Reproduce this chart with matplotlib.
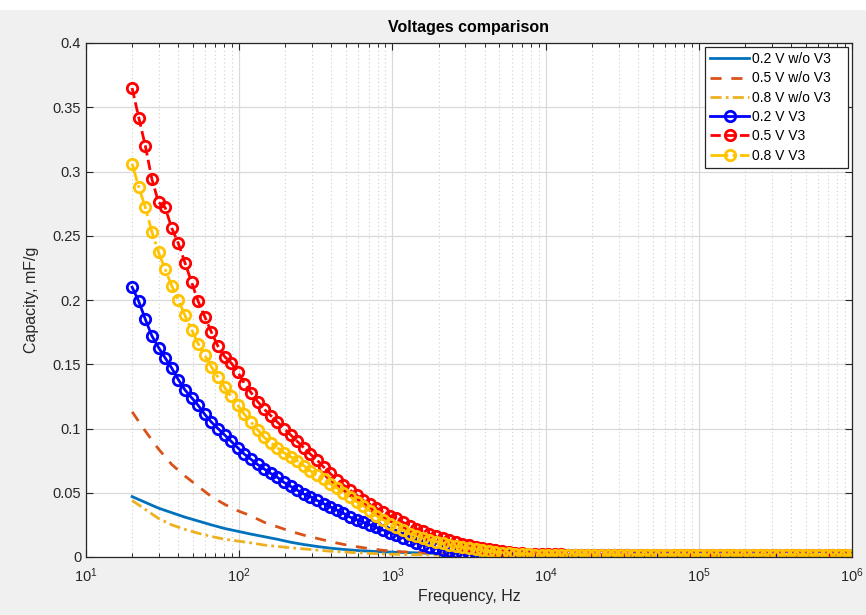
import numpy as np
import matplotlib
matplotlib.use('Agg')
import matplotlib.pyplot as plt
from matplotlib.patches import Rectangle
from matplotlib.ticker import LogLocator

plt.rcParams['font.family'] = ['Liberation Sans', 'DejaVu Sans']

# frequency sweep of the measurement (110 points, 20 Hz .. 1 MHz)
freq = np.logspace(np.log10(20), 6, 110)
freq_lines = freq[::2]

# capacity, mF/g  -- series with V3 (every sweep point)
c_02_v3 = [0.210, 0.199, 0.185, 0.172, 0.163, 0.155, 0.147, 0.138, 0.130, 0.124,
           0.118, 0.111, 0.105, 0.100, 0.095, 0.090, 0.085, 0.080, 0.076, 0.072,
           0.0685, 0.065, 0.062, 0.058, 0.055, 0.052, 0.049, 0.047, 0.044, 0.0415,
           0.039, 0.0365, 0.034, 0.031, 0.029, 0.027, 0.025, 0.023, 0.021, 0.019,
           0.017, 0.015, 0.013, 0.011, 0.0095, 0.008, 0.0068, 0.0057, 0.0048, 0.004,
           0.0033, 0.0027, 0.0022, 0.0018, 0.0015, 0.0013,
           0.0012, 0.0012, 0.0012, 0.0012, 0.0012, 0.0012, 0.0012, 0.0012, 0.0012, 0.0012,
           0.0012, 0.0012, 0.0012, 0.0012, 0.0012, 0.0012, 0.0012, 0.0012, 0.0012, 0.0012,
           0.0011, 0.0011, 0.0011, 0.0011, 0.0011, 0.0011, 0.0011, 0.0011, 0.0011, 0.0011,
           0.0011, 0.0011, 0.0011, 0.0011, 0.0011, 0.0011, 0.0011, 0.0011, 0.0011, 0.0011,
           0.0010, 0.0010, 0.0010, 0.0010, 0.0010, 0.0010, 0.0010, 0.0010, 0.0010, 0.0010,
           0.0010, 0.0010, 0.0010, 0.0010]
c_05_v3 = [0.365, 0.342, 0.320, 0.294, 0.276, 0.272, 0.256, 0.244, 0.229, 0.214,
           0.199, 0.187, 0.175, 0.164, 0.156, 0.151, 0.144, 0.135, 0.128, 0.121,
           0.115, 0.110, 0.105, 0.100, 0.095, 0.090, 0.085, 0.080, 0.0755, 0.070,
           0.065, 0.060, 0.056, 0.052, 0.048, 0.044, 0.041, 0.038, 0.035, 0.032,
           0.030, 0.027, 0.0245, 0.022, 0.020, 0.018, 0.016, 0.0145, 0.013, 0.0115,
           0.010, 0.009, 0.0078, 0.0068, 0.0060, 0.0052, 0.0045, 0.0039, 0.0034, 0.0030,
           0.0027, 0.0025, 0.0023, 0.0021,
           0.0020, 0.0020, 0.0019, 0.0019, 0.0019, 0.0018, 0.0018, 0.0018, 0.0017, 0.0017,
           0.0017, 0.0016, 0.0016, 0.0016, 0.0016, 0.0015, 0.0015, 0.0015, 0.0015, 0.0015,
           0.0014, 0.0014, 0.0014, 0.0014, 0.0014, 0.0014, 0.0014, 0.0014, 0.0014, 0.0014,
           0.0013, 0.0013, 0.0013, 0.0013, 0.0013, 0.0013, 0.0013, 0.0013, 0.0013, 0.0013,
           0.0012, 0.0012, 0.0012, 0.0012, 0.0012, 0.0012]
c_08_v3 = [0.306, 0.288, 0.272, 0.253, 0.237, 0.224, 0.211, 0.200, 0.188, 0.177,
           0.166, 0.157, 0.148, 0.140, 0.132, 0.125, 0.118, 0.111, 0.105, 0.099,
           0.093, 0.089, 0.085, 0.081, 0.078, 0.075, 0.071, 0.067, 0.064, 0.061,
           0.057, 0.054, 0.050, 0.047, 0.043, 0.040, 0.036, 0.032, 0.029, 0.026,
           0.023, 0.021, 0.018, 0.0165, 0.015, 0.0135, 0.012, 0.0107, 0.0095, 0.0085,
           0.0076, 0.0068, 0.0060, 0.0053, 0.0046, 0.0040, 0.0035, 0.0030, 0.0026, 0.0023,
           0.0021, 0.0019, 0.0018, 0.0017,
           0.0017, 0.0017, 0.0017, 0.0017, 0.0017, 0.0017, 0.0017, 0.0017, 0.0017, 0.0017,
           0.0016, 0.0016, 0.0016, 0.0016, 0.0016, 0.0016, 0.0016, 0.0016, 0.0016, 0.0016,
           0.0015, 0.0015, 0.0015, 0.0015, 0.0015, 0.0015, 0.0015, 0.0015, 0.0015, 0.0015,
           0.0014, 0.0014, 0.0014, 0.0014, 0.0014, 0.0014, 0.0014, 0.0014, 0.0014, 0.0014,
           0.0013, 0.0013, 0.0013, 0.0013, 0.0013, 0.0013]

# series without V3 (every second sweep point)
c_02 = [0.047, 0.0425, 0.038, 0.0345, 0.031, 0.028, 0.025, 0.0222, 0.0200, 0.0178,
        0.0158, 0.0138, 0.0115, 0.0097, 0.0082, 0.0069, 0.0059, 0.0051, 0.0045, 0.0040,
        0.0037, 0.0034, 0.0031, 0.0028, 0.0025, 0.0022, 0.0020,
        0.0018, 0.0018, 0.0018, 0.0018, 0.0018, 0.0018, 0.0018,
        0.0016, 0.0016, 0.0016, 0.0016, 0.0016, 0.0016, 0.0016,
        0.0014, 0.0014, 0.0014, 0.0014, 0.0014, 0.0014, 0.0014,
        0.0012, 0.0012, 0.0012, 0.0012, 0.0012, 0.0012, 0.0012]
c_05 = [0.113, 0.098, 0.084, 0.072, 0.063, 0.055, 0.047, 0.041, 0.036, 0.032,
        0.027, 0.0235, 0.020, 0.017, 0.0145, 0.012, 0.0098, 0.0080, 0.0065, 0.0052,
        0.0044, 0.0037, 0.0032, 0.0028, 0.0025, 0.0022, 0.0020,
        0.0018, 0.0018, 0.0018, 0.0018, 0.0018, 0.0018, 0.0018,
        0.0016, 0.0016, 0.0016, 0.0016, 0.0016, 0.0016, 0.0016,
        0.0014, 0.0014, 0.0014, 0.0014, 0.0014, 0.0014, 0.0014,
        0.0012, 0.0012, 0.0012, 0.0012, 0.0012, 0.0012, 0.0012]
c_08 = [0.0440, 0.0370, 0.0300, 0.0250, 0.0215, 0.0185, 0.0160, 0.0138, 0.0124, 0.0110,
        0.0093, 0.0082, 0.0072, 0.0063, 0.0054, 0.0045, 0.0039, 0.0033, 0.0028, 0.0024,
        0.0021, 0.0019, 0.0017,
        0.0016, 0.0016, 0.0016, 0.0016, 0.0016, 0.0016, 0.0016, 0.0016,
        0.0014, 0.0014, 0.0014, 0.0014, 0.0014, 0.0014, 0.0014, 0.0014,
        0.0012, 0.0012, 0.0012, 0.0012, 0.0012, 0.0012, 0.0012, 0.0012,
        0.0010, 0.0010, 0.0010, 0.0010, 0.0010, 0.0010, 0.0010, 0.0010]

labels = ['0.2 V w/o V3', '0.5 V w/o V3', '0.8 V w/o V3', '0.2 V V3', '0.5 V V3', '0.8 V V3']
y_ticks = [0, 0.05, 0.1, 0.15, 0.2, 0.25, 0.3, 0.35, 0.4]
y_ticklabels = ['0', '0.05', '0.1', '0.15', '0.2', '0.25', '0.3', '0.35', '0.4']

fig = plt.figure(figsize=(8.66, 6.15), dpi=100, facecolor='#f0f0f0')
fig.add_artist(Rectangle((0, 1 - 10 / 615), 1, 10 / 615, transform=fig.transFigure,
                         facecolor='white', edgecolor='none', zorder=-1))
ax = fig.add_axes([86 / 866, 58 / 615, 766 / 866, 514 / 615])
ax.set_facecolor('white')

# trailing spaces: MATLAB leaves room to the right of legend text
ax.plot(freq_lines, c_02, '-', color='#0072BD', lw=2, label=labels[0] + '   ')
ax.plot(freq_lines, c_05, color='#D95319', lw=2, ls=(0, (4, 3.5)), label=labels[1] + '   ')
ax.plot(freq_lines, c_08, color='#EDB120', lw=2, ls=(0, (4, 1.5, 1, 1.5)), label=labels[2] + '   ')
mk = dict(marker='o', ms=7.5, mew=2, mfc='none', lw=2)
ax.plot(freq, c_02_v3, '-', color='#0000ff', label=labels[3] + '   ', **mk)
ax.plot(freq, c_05_v3, '--', color='#ff0000', label=labels[4] + '   ', **mk)
ax.plot(freq, c_08_v3, '-.', color='#ffc300', label=labels[5] + '   ', **mk)

ax.set_xscale('log')
ax.set_xlim(10, 1e6)
ax.set_ylim(0, 0.4)
ax.set_yticks(y_ticks)
ax.set_yticklabels(y_ticklabels)
ax.xaxis.set_major_locator(LogLocator(base=10, numticks=10))
ax.xaxis.set_minor_locator(LogLocator(base=10, subs=np.arange(2, 10), numticks=20))

ax.grid(True, which='major', color='#d9d9d9', lw=0.9)
ax.grid(True, which='minor', axis='x', color='#cfcfcf', lw=0.8, ls=(0, (1, 2.5)))
ax.set_axisbelow(True)

for s in ax.spines.values():
    s.set_color('#262626')
    s.set_linewidth(0.9)
ax.tick_params(which='both', direction='in', top=True, right=True, colors='#262626',
               labelsize=10.5, labelcolor='#262626')
ax.tick_params(which='major', length=5, width=0.8)
ax.tick_params(which='minor', length=3, width=0.7)
ax.tick_params(axis='x', pad=7)

ax.set_title('Voltages comparison', fontsize=11.5, fontweight='bold', color='black', pad=8)
ax.set_xlabel('Frequency, Hz', fontsize=11.5, color='#262626', labelpad=3)
ax.set_ylabel('Capacity, mF/g', fontsize=11.5, color='#262626', labelpad=10)

leg = ax.legend(loc='upper right', bbox_to_anchor=(0.995, 0.993), borderaxespad=0,
                fontsize=10, handlelength=2.8, handletextpad=0.2, numpoints=1,
                labelspacing=0.38, borderpad=0.4, fancybox=False, framealpha=1)
leg.get_frame().set_edgecolor('#262626')
leg.get_frame().set_linewidth(0.9)

fig.savefig('out.png', dpi=100, facecolor=fig.get_facecolor())
